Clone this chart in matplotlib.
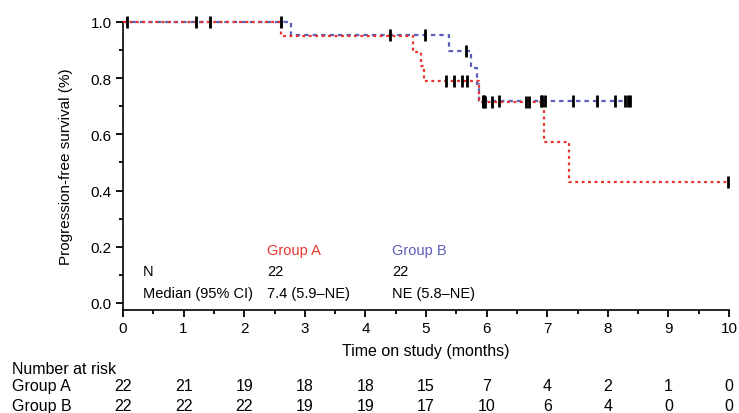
import numpy as np
import matplotlib
matplotlib.use('Agg')
import matplotlib.pyplot as plt
from matplotlib.ticker import MultipleLocator

plt.rcParams['font.family'] = ['Liberation Sans', 'DejaVu Sans']

# step curves
a_times = [0, 2.61, 4.78, 4.91, 4.97, 5.87, 6.94, 7.36, 10.0]
a_surv = [1.0, 0.95, 0.895, 0.842, 0.789, 0.717, 0.574, 0.430, 0.430]
a_cens = [0.07, 1.21, 1.44, 2.60, 5.33, 5.46, 5.60, 5.68, 5.94, 5.98, 6.09, 6.65, 6.70, 9.98]

b_times = [0, 2.77, 5.38, 5.74, 5.84, 5.87, 8.37]
b_surv = [1.0, 0.952, 0.898, 0.838, 0.778, 0.718, 0.718]
b_cens = [4.41, 4.99, 5.66, 5.94, 5.96, 6.20, 6.89, 6.92, 6.96, 7.42, 7.83, 8.12, 8.28, 8.34, 8.37]

groups = ['Group A', 'Group B']
colors = ['#e8342c', '#5a5fb8']
n_pat = ['22', '22']
medians = ['7.4 (5.9\u2013NE)', 'NE (5.8\u2013NE)']

risk_times = list(range(11))
risk_a = [22, 21, 19, 18, 18, 15, 7, 4, 2, 1, 0]
risk_b = [22, 22, 22, 19, 19, 17, 10, 6, 4, 0, 0]


def surv_at(times, surv, t):
    idx = np.searchsorted(times, t, side='right') - 1
    return np.array(surv)[idx]


fig = plt.figure(figsize=(7.39, 4.14), dpi=100)
ax = fig.add_axes([123 / 739, 1 - 311 / 414, 606 / 739, 288 / 414])

ax.step(b_times, b_surv, where='post', color=colors[1], lw=1.6,
        linestyle=(0, (2, 1.8)), clip_on=False, zorder=3)
ax.step(a_times, a_surv, where='post', color=colors[0], lw=1.6,
        linestyle=(0, (1.3, 1.6)), clip_on=False, zorder=3)

for tms, sv, cens in [(a_times, a_surv, a_cens), (b_times, b_surv, b_cens)]:
    ys = [surv_at(tms, sv, c) for c in cens]
    ax.plot(cens, ys, linestyle='none', marker='|', color='black',
            ms=8, mew=2, clip_on=False, zorder=4)

ax.set_xlim(0, 10)
ax.set_ylim(-0.025, 1.0)
ax.spines['top'].set_visible(False)
ax.spines['right'].set_visible(False)
ax.spines['left'].set_linewidth(1.2)
ax.spines['bottom'].set_linewidth(1.2)

ax.xaxis.set_major_locator(MultipleLocator(1))
ax.xaxis.set_minor_locator(MultipleLocator(0.5))
ax.set_yticks(np.arange(0, 1.01, 0.2))
ax.set_yticklabels([f'{v:.1f}' for v in np.arange(0, 1.01, 0.2)])
ax.yaxis.set_minor_locator(MultipleLocator(0.1))
ax.tick_params(which='major', length=5, width=1.3, labelsize=11, pad=3)
ax.tick_params(which='minor', length=3, width=1.3)

ax.set_ylabel('Progression-free survival (%)', fontsize=11)
ax.yaxis.set_label_coords(-0.083, 0.5)
ax.set_xlabel('Time on study (months)', fontsize=11.5)
ax.xaxis.label.set_va('center')
ax.xaxis.set_label_coords(0.5, -(352 - 311) / 288)

# summary box inside the plot
col_x = [2.38, 4.44]
ax.text(0.33, 0.114, 'N', fontsize=10.5, va='center')
ax.text(0.33, 0.036, 'Median (95% CI)', fontsize=10.5, va='center')
for i, g in enumerate(groups):
    ax.text(col_x[i], 0.189, g, color=colors[i], fontsize=10.5, va='center')
    ax.text(col_x[i], 0.114, n_pat[i], fontsize=10.5, va='center')
    ax.text(col_x[i], 0.036, medians[i], fontsize=10.5, va='center')

# number at risk table
tr = ax.get_xaxis_transform()
lab_x = (12 - 123) / 606
ax.text(lab_x, (311 - 370) / 288, 'Number at risk', transform=ax.transAxes,
        fontsize=11.5, va='center', ha='left')
for lbl, vals, py in [(groups[0], risk_a, 387), (groups[1], risk_b, 406.5)]:
    ax.text(lab_x, (311 - py) / 288, lbl, transform=ax.transAxes,
            fontsize=11.5, va='center', ha='left')
    for t, v in zip(risk_times, vals):
        ax.text(t, (311 - py) / 288, str(v), transform=tr,
                fontsize=11.5, va='center', ha='center')

fig.savefig('out.png', dpi=100)
